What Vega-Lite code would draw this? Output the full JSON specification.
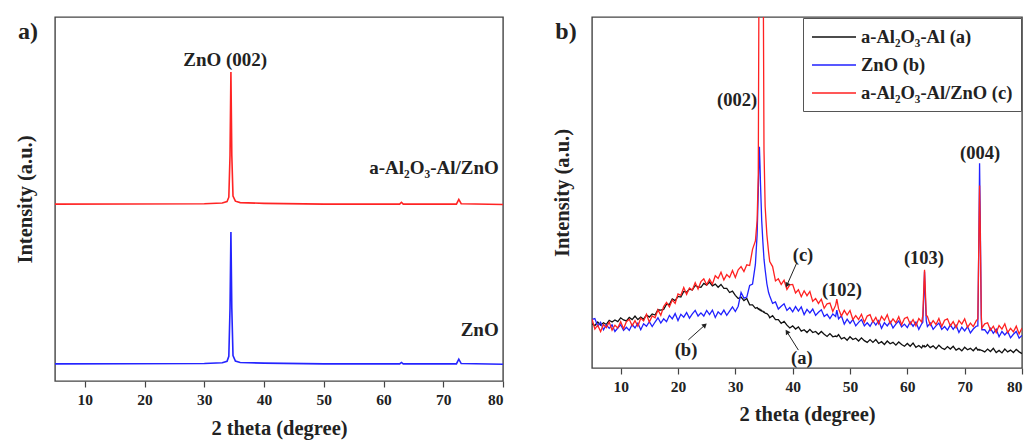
{
  "$schema": "https://vega.github.io/schema/vega-lite/v6.json",
  "background": "white",
  "padding": {"left": 14, "top": 16, "right": 5, "bottom": 0},
  "spacing": 46,
  "resolve": {"scale": {"color": "independent"}, "legend": {"color": "independent"}},
  "config": {
    "font": "Liberation Serif",
    "view": {"stroke": "#444444", "strokeWidth": 1.4},
    "axis": {
      "grid": false,
      "domain": false,
      "labelFont": "Liberation Serif",
      "labelFontWeight": "bold",
      "labelFontSize": 15.5,
      "labelColor": "#222222",
      "titleFont": "Liberation Serif",
      "titleFontWeight": "bold",
      "titleFontSize": 20.5,
      "titleColor": "#222222"
    },
    "text": {"font": "Liberation Serif", "fontWeight": "bold", "color": "#222222"}
  },
  "hconcat": [
    {
      "width": 448,
      "height": 364,
      "layer": [
        {
          "data": {"values": [
            {"x": 5, "r": 48.6, "bl": 4.7},
            {"x": 30, "r": 48.7, "bl": 4.8},
            {"x": 33, "r": 48.9, "bl": 5.0},
            {"x": 33.8, "r": 49.3, "bl": 5.4},
            {"x": 34.1, "r": 50.5, "bl": 6.8},
            {"x": 34.3, "r": 62, "bl": 20},
            {"x": 34.45, "r": 84.9, "bl": 40.9},
            {"x": 34.6, "r": 62, "bl": 20},
            {"x": 34.8, "r": 50.8, "bl": 7.0},
            {"x": 35.2, "r": 49.4, "bl": 5.5},
            {"x": 36, "r": 49.0, "bl": 5.1},
            {"x": 40, "r": 48.8, "bl": 4.9},
            {"x": 50, "r": 48.6, "bl": 4.7},
            {"x": 62.7, "r": 48.6, "bl": 4.7},
            {"x": 63, "r": 49.1, "bl": 5.1},
            {"x": 63.3, "r": 48.6, "bl": 4.7},
            {"x": 72.2, "r": 48.6, "bl": 4.7},
            {"x": 72.6, "r": 49.9, "bl": 6.0},
            {"x": 73.0, "r": 48.7, "bl": 4.8},
            {"x": 80, "r": 48.5, "bl": 4.6}
          ]},
          "transform": [{"fold": ["r", "bl"], "as": ["s", "v"]}],
          "mark": {"type": "line", "strokeWidth": 1.6, "clip": true},
          "encoding": {
            "x": {"field": "x", "type": "quantitative",
              "scale": {"domain": [5, 80], "nice": false, "zero": false},
              "axis": {"title": "2 theta (degree)",
                "values": [10, 15, 20, 25, 30, 35, 40, 45, 50, 55, 60, 65, 70, 75, 80],
                "labelExpr": "datum.value % 10 === 0 ? datum.label : ''",
                "tickSize": {"condition": {"test": "datum.value % 10 === 0", "value": 6}, "value": 3},
                "tickColor": "#444444", "tickWidth": 1.2,
                "labelPadding": 5, "titlePadding": 11}},
            "y": {"field": "v", "type": "quantitative",
              "scale": {"domain": [0, 100], "nice": false},
              "axis": {"title": "Intensity (a.u.)", "labels": false, "ticks": false, "titlePadding": 20}},
            "color": {"field": "s", "type": "nominal",
              "scale": {"domain": ["r", "bl"], "range": ["#ff2424", "#2424ff"]}, "legend": null}
          }
        },
        {
          "data": {"values": [
            {"x": 33.5, "v": 88.2, "t": "ZnO (002)"},
            {"x": 68.45, "v": 58.5, "t": "a-Al₂O₃-Al/ZnO"},
            {"x": 76.1, "v": 14.0, "t": "ZnO"}
          ]},
          "mark": {"type": "text", "fontSize": 19, "align": "center", "baseline": "middle"},
          "encoding": {
            "x": {"field": "x", "type": "quantitative"},
            "y": {"field": "v", "type": "quantitative"},
            "text": {"field": "t"}
          }
        },
        {
          "data": {"values": [{"x": 0.5, "v": 95.9, "t": "a)"}]},
          "mark": {"type": "text", "fontSize": 24, "align": "center", "baseline": "middle"},
          "encoding": {
            "x": {"field": "x", "type": "quantitative"},
            "y": {"field": "v", "type": "quantitative"},
            "text": {"field": "t"}
          }
        }
      ]
    },
    {
      "width": 430,
      "height": 351,
      "layer": [
        {
          "data": {"values": [
            {"x": 5, "a": 12.6, "b": 13.8, "c": 13.9},
            {"x": 5.5, "a": 12.1, "b": 14.1, "c": 11.1},
            {"x": 6, "a": 13.1, "b": 11.9, "c": 12.2},
            {"x": 6.5, "a": 12.2, "b": 13.0, "c": 10.4},
            {"x": 7, "a": 12.9, "b": 10.9, "c": 12.4},
            {"x": 7.5, "a": 12.4, "b": 12.3, "c": 11.5},
            {"x": 8, "a": 13.6, "b": 11.3, "c": 13.1},
            {"x": 8.5, "a": 13.1, "b": 12.3, "c": 10.8},
            {"x": 9, "a": 13.7, "b": 10.4, "c": 12.2},
            {"x": 9.5, "a": 13.2, "b": 11.4, "c": 11.4},
            {"x": 10, "a": 14.3, "b": 12.3, "c": 13.2},
            {"x": 10.5, "a": 13.7, "b": 10.7, "c": 11.2},
            {"x": 11, "a": 13.4, "b": 11.6, "c": 13.2},
            {"x": 11.5, "a": 14.4, "b": 10.7, "c": 13.9},
            {"x": 12, "a": 13.8, "b": 12.4, "c": 12.0},
            {"x": 12.5, "a": 14.8, "b": 11.4, "c": 13.5},
            {"x": 13, "a": 13.8, "b": 12.8, "c": 11.9},
            {"x": 13.5, "a": 14.5, "b": 10.9, "c": 14.2},
            {"x": 14, "a": 13.9, "b": 12.6, "c": 13.4},
            {"x": 14.5, "a": 15.1, "b": 11.9, "c": 15.3},
            {"x": 15, "a": 14.5, "b": 13.2, "c": 13.1},
            {"x": 15.5, "a": 15.4, "b": 11.8, "c": 14.8},
            {"x": 16, "a": 15.1, "b": 13.1, "c": 14.3},
            {"x": 16.5, "a": 16.6, "b": 14.3, "c": 16.6},
            {"x": 17, "a": 16.5, "b": 12.8, "c": 15.0},
            {"x": 17.5, "a": 16.7, "b": 14.0, "c": 17.5},
            {"x": 18, "a": 18.2, "b": 13.2, "c": 18.7},
            {"x": 18.5, "a": 18.1, "b": 15.0, "c": 17.4},
            {"x": 19, "a": 19.7, "b": 14.0, "c": 19.4},
            {"x": 19.5, "a": 19.2, "b": 15.5, "c": 18.4},
            {"x": 20, "a": 20.4, "b": 13.5, "c": 21.1},
            {"x": 20.5, "a": 20.2, "b": 15.3, "c": 20.7},
            {"x": 21, "a": 21.8, "b": 14.5, "c": 22.9},
            {"x": 21.5, "a": 21.6, "b": 15.8, "c": 21.0},
            {"x": 22, "a": 22.5, "b": 14.2, "c": 22.8},
            {"x": 22.5, "a": 22.2, "b": 15.4, "c": 22.2},
            {"x": 23, "a": 23.5, "b": 16.4, "c": 24.3},
            {"x": 23.5, "a": 23.1, "b": 14.8, "c": 22.5},
            {"x": 24, "a": 23.0, "b": 15.7, "c": 24.6},
            {"x": 24.5, "a": 24.1, "b": 14.8, "c": 25.4},
            {"x": 25, "a": 23.6, "b": 16.4, "c": 23.7},
            {"x": 25.5, "a": 24.5, "b": 15.2, "c": 25.3},
            {"x": 26, "a": 23.4, "b": 16.5, "c": 23.9},
            {"x": 26.5, "a": 23.9, "b": 14.4, "c": 26.3},
            {"x": 27, "a": 23.0, "b": 16.0, "c": 25.5},
            {"x": 27.5, "a": 23.8, "b": 15.2, "c": 27.3},
            {"x": 28, "a": 22.7, "b": 16.5, "c": 25.1},
            {"x": 28.5, "a": 22.7, "b": 15.0, "c": 26.6},
            {"x": 29, "a": 21.5, "b": 16.2, "c": 25.8},
            {"x": 29.5, "a": 21.9, "b": 17.4, "c": 27.8},
            {"x": 30, "a": 20.7, "b": 16.1, "c": 25.8},
            {"x": 30.5, "a": 19.8, "b": 17.6, "c": 28.0},
            {"x": 31, "a": 20.2, "b": 21.5, "c": 28.9},
            {"x": 31.5, "a": 19.2, "b": 19.9, "c": 27.5},
            {"x": 32, "a": 19.8, "b": 20.2, "c": 29.4},
            {"x": 32.5, "a": 18.0, "b": 23.5, "c": 29.2},
            {"x": 33, "a": 18.0, "b": 23.9, "c": 33.8},
            {"x": 33.5, "a": 17.0, "b": 29.5, "c": 36.2},
            {"x": 33.8, "a": 17.2, "b": 38, "c": 42},
            {"x": 34.0, "a": 16.8, "b": 50, "c": 55},
            {"x": 34.1, "a": 16.9, "b": 58, "c": 100},
            {"x": 34.2, "a": 16.6, "b": 63, "c": 200},
            {"x": 34.3, "a": 16.7, "b": 58, "c": 300},
            {"x": 34.4, "a": 16.4, "b": 52, "c": 380},
            {"x": 34.5, "a": 16.5, "b": 47, "c": 400},
            {"x": 34.6, "a": 16.2, "b": 42, "c": 380},
            {"x": 34.8, "a": 16.2, "b": 36, "c": 200},
            {"x": 34.9, "a": 15.9, "b": 33.5, "c": 100},
            {"x": 35.0, "a": 16.0, "b": 31, "c": 62},
            {"x": 35.2, "a": 15.6, "b": 28, "c": 46},
            {"x": 35.5, "a": 15.5, "b": 24, "c": 38},
            {"x": 35.8, "a": 15.0, "b": 21.5, "c": 33},
            {"x": 36, "a": 14.3, "b": 20.5, "c": 30.3},
            {"x": 36.5, "a": 14.9, "b": 18.4, "c": 28.9},
            {"x": 37, "a": 13.8, "b": 18.8, "c": 24.8},
            {"x": 37.5, "a": 13.8, "b": 16.8, "c": 25.4},
            {"x": 38, "a": 12.7, "b": 17.6, "c": 23.8},
            {"x": 38.5, "a": 13.3, "b": 18.3, "c": 25.0},
            {"x": 39, "a": 12.2, "b": 16.4, "c": 22.4},
            {"x": 39.5, "a": 11.4, "b": 17.2, "c": 23.7},
            {"x": 40, "a": 12.0, "b": 16.0, "c": 23.8},
            {"x": 40.5, "a": 11.1, "b": 17.5, "c": 21.4},
            {"x": 41, "a": 11.7, "b": 16.2, "c": 22.3},
            {"x": 41.5, "a": 10.5, "b": 17.4, "c": 20.3},
            {"x": 42, "a": 10.9, "b": 15.2, "c": 22.0},
            {"x": 42.5, "a": 10.1, "b": 16.7, "c": 20.6},
            {"x": 43, "a": 11.0, "b": 15.7, "c": 21.8},
            {"x": 43.5, "a": 10.1, "b": 16.8, "c": 19.0},
            {"x": 44, "a": 10.4, "b": 15.0, "c": 19.8},
            {"x": 44.5, "a": 9.6, "b": 15.9, "c": 18.4},
            {"x": 45, "a": 10.4, "b": 16.6, "c": 19.6},
            {"x": 45.5, "a": 9.6, "b": 14.7, "c": 17.0},
            {"x": 46, "a": 9.0, "b": 15.3, "c": 18.3},
            {"x": 46.5, "a": 9.8, "b": 14.1, "c": 18.5},
            {"x": 47, "a": 8.9, "b": 15.4, "c": 16.1},
            {"x": 47.5, "a": 9.1, "b": 14.7, "c": 17.9},
            {"x": 47.7, "a": 8.9, "b": 16.5, "c": 19.6},
            {"x": 48, "a": 9.5, "b": 14.0, "c": 16.9},
            {"x": 48.5, "a": 8.3, "b": 14.9, "c": 14.8},
            {"x": 49, "a": 8.7, "b": 12.5, "c": 16.4},
            {"x": 49.5, "a": 7.9, "b": 13.9, "c": 15.1},
            {"x": 50, "a": 8.9, "b": 12.7, "c": 16.4},
            {"x": 50.5, "a": 8.1, "b": 13.8, "c": 13.8},
            {"x": 51, "a": 8.5, "b": 12.0, "c": 14.9},
            {"x": 51.5, "a": 7.7, "b": 13.0, "c": 13.8},
            {"x": 52, "a": 8.6, "b": 13.8, "c": 15.3},
            {"x": 52.5, "a": 7.8, "b": 12.0, "c": 13.0},
            {"x": 53, "a": 7.3, "b": 12.9, "c": 14.8},
            {"x": 53.5, "a": 8.1, "b": 11.9, "c": 15.2},
            {"x": 54, "a": 7.3, "b": 13.4, "c": 13.1},
            {"x": 54.5, "a": 8.1, "b": 12.2, "c": 14.4},
            {"x": 55, "a": 7.0, "b": 13.5, "c": 12.6},
            {"x": 55.5, "a": 7.5, "b": 11.3, "c": 14.7},
            {"x": 56, "a": 6.7, "b": 12.9, "c": 13.6},
            {"x": 56.5, "a": 7.7, "b": 12.0, "c": 15.2},
            {"x": 57, "a": 6.9, "b": 13.2, "c": 12.7},
            {"x": 57.5, "a": 7.3, "b": 11.4, "c": 14.0},
            {"x": 58, "a": 6.5, "b": 12.5, "c": 12.9},
            {"x": 58.5, "a": 7.4, "b": 13.4, "c": 14.6},
            {"x": 59, "a": 6.7, "b": 11.7, "c": 12.3},
            {"x": 59.5, "a": 6.2, "b": 12.5, "c": 14.1},
            {"x": 60, "a": 7.0, "b": 11.5, "c": 14.5},
            {"x": 60.5, "a": 6.2, "b": 13.1, "c": 12.5},
            {"x": 61, "a": 7.1, "b": 11.9, "c": 13.8},
            {"x": 61.5, "a": 5.9, "b": 13.1, "c": 12.0},
            {"x": 62, "a": 6.4, "b": 11.0, "c": 14.1},
            {"x": 62.5, "a": 5.7, "b": 12.6, "c": 13.1},
            {"x": 62.7, "a": 6.4, "b": 13.0, "c": 15.0},
            {"x": 62.9, "a": 6.1, "b": 22, "c": 24},
            {"x": 63.0, "a": 6.3, "b": 27.5, "c": 28},
            {"x": 63.1, "a": 6.0, "b": 22, "c": 24},
            {"x": 63.3, "a": 6.2, "b": 13.5, "c": 15},
            {"x": 63.5, "a": 6.7, "b": 11.8, "c": 14.7},
            {"x": 64, "a": 5.8, "b": 12.8, "c": 12.2},
            {"x": 64.5, "a": 6.3, "b": 11.0, "c": 13.5},
            {"x": 65, "a": 5.5, "b": 12.0, "c": 12.4},
            {"x": 65.5, "a": 6.5, "b": 12.8, "c": 14.1},
            {"x": 66, "a": 5.7, "b": 11.0, "c": 11.8},
            {"x": 66.5, "a": 5.3, "b": 11.8, "c": 13.6},
            {"x": 67, "a": 6.1, "b": 10.8, "c": 14.0},
            {"x": 67.5, "a": 5.4, "b": 12.3, "c": 12.0},
            {"x": 68, "a": 6.2, "b": 11.0, "c": 13.2},
            {"x": 68.5, "a": 5.1, "b": 12.2, "c": 11.5},
            {"x": 69, "a": 5.6, "b": 10.1, "c": 13.5},
            {"x": 69.5, "a": 4.9, "b": 11.6, "c": 12.5},
            {"x": 70, "a": 5.9, "b": 10.6, "c": 14.0},
            {"x": 70.5, "a": 5.2, "b": 11.8, "c": 11.6},
            {"x": 71, "a": 5.6, "b": 10.0, "c": 12.8},
            {"x": 71.5, "a": 4.9, "b": 11.1, "c": 11.8},
            {"x": 72, "a": 5.8, "b": 11.9, "c": 13.4},
            {"x": 72.3, "a": 5.1, "b": 12, "c": 14},
            {"x": 72.5, "a": 5.3, "b": 40, "c": 40},
            {"x": 72.6, "a": 5.1, "b": 58.3, "c": 52},
            {"x": 72.7, "a": 5.2, "b": 45, "c": 42},
            {"x": 72.9, "a": 5.0, "b": 14, "c": 15},
            {"x": 73, "a": 5.0, "b": 10.9, "c": 11.4},
            {"x": 73.5, "a": 4.6, "b": 10.9, "c": 12.6},
            {"x": 74, "a": 5.4, "b": 9.8, "c": 12.9},
            {"x": 74.5, "a": 4.7, "b": 11.3, "c": 10.8},
            {"x": 75, "a": 5.6, "b": 9.9, "c": 11.9},
            {"x": 75.5, "a": 4.4, "b": 11.1, "c": 10.1},
            {"x": 76, "a": 5.0, "b": 8.9, "c": 12.1},
            {"x": 76.5, "a": 4.3, "b": 10.4, "c": 11.1},
            {"x": 77, "a": 5.4, "b": 9.4, "c": 12.6},
            {"x": 77.5, "a": 4.6, "b": 10.4, "c": 10.1},
            {"x": 78, "a": 5.1, "b": 8.6, "c": 11.3},
            {"x": 78.5, "a": 4.4, "b": 9.6, "c": 10.3},
            {"x": 79, "a": 5.3, "b": 10.4, "c": 11.9},
            {"x": 79.5, "a": 4.6, "b": 8.5, "c": 9.7},
            {"x": 80, "a": 4.1, "b": 9.3, "c": 11.4}
          ]},
          "transform": [{"fold": ["a", "b", "c"], "as": ["s", "v"]}],
          "mark": {"type": "line", "strokeWidth": 1.3, "clip": true},
          "encoding": {
            "x": {"field": "x", "type": "quantitative",
              "scale": {"domain": [5, 80], "nice": false, "zero": false},
              "axis": {"title": "2 theta (degree)",
                "values": [10, 15, 20, 25, 30, 35, 40, 45, 50, 55, 60, 65, 70, 75, 80],
                "labelExpr": "datum.value % 10 === 0 ? datum.label : ''",
                "tickSize": {"condition": {"test": "datum.value % 10 === 0", "value": 6}, "value": 3},
                "tickColor": "#444444", "tickWidth": 1.2,
                "labelPadding": 5, "titlePadding": 10}},
            "y": {"field": "v", "type": "quantitative",
              "scale": {"domain": [0, 100], "nice": false},
              "axis": {"title": "Intensity (a.u.)", "labels": false, "ticks": false, "titlePadding": 20}},
            "color": {"field": "s", "type": "nominal",
              "scale": {"domain": ["a", "b", "c"], "range": ["#111111", "#2121ff", "#ff2121"]},
              "legend": {
                "title": null,
                "orient": "top-right",
                "offset": 1,
                "labelExpr": "datum.value === 'a' ? 'a-Al₂O₃-Al (a)' : datum.value === 'b' ? 'ZnO (b)' : 'a-Al₂O₃-Al/ZnO (c)'",
                "symbolType": "M-1,0H3.4",
                "symbolSize": 400,
                "symbolStrokeWidth": 1.5,
                "labelFont": "Liberation Serif",
                "labelFontWeight": "bold",
                "labelFontSize": 18.5,
                "labelColor": "#222222",
                "labelLimit": 300,
                "labelOffset": 28,
                "rowPadding": 7,
                "padding": 8,
                "strokeColor": "#555555",
                "fillColor": "white"
              }}
          }
        },
        {
          "data": {"values": [
            {"x": 30.3, "v": 76.4, "t": "(002)"},
            {"x": 72.7, "v": 61.2, "t": "(004)"},
            {"x": 62.9, "v": 31.3, "t": "(103)"},
            {"x": 48.6, "v": 22.2, "t": "(102)"},
            {"x": 41.8, "v": 32.2, "t": "(c)"},
            {"x": 21.4, "v": 5.1, "t": "(b)"},
            {"x": 41.6, "v": 2.8, "t": "(a)"}
          ]},
          "mark": {"type": "text", "fontSize": 18.5, "align": "center", "baseline": "middle"},
          "encoding": {
            "x": {"field": "x", "type": "quantitative"},
            "y": {"field": "v", "type": "quantitative"},
            "text": {"field": "t"}
          }
        },
        {
          "data": {"values": [{"x": 0.47, "v": 95.7, "t": "b)"}]},
          "mark": {"type": "text", "fontSize": 24, "align": "center", "baseline": "middle"},
          "encoding": {
            "x": {"field": "x", "type": "quantitative"},
            "y": {"field": "v", "type": "quantitative"},
            "text": {"field": "t"}
          }
        },
        {
          "data": {"values": [
            {"x": 40.7, "v": 29.9, "xe": 39.0, "ve": 23.6},
            {"x": 21.8, "v": 8.0, "xe": 24.7, "ve": 12.25},
            {"x": 41.0, "v": 5.1, "xe": 39.0, "ve": 10.3}
          ]},
          "mark": {"type": "rule", "color": "#222222", "strokeWidth": 1},
          "encoding": {
            "x": {"field": "x", "type": "quantitative"},
            "y": {"field": "v", "type": "quantitative"},
            "x2": {"field": "xe"},
            "y2": {"field": "ve"}
          }
        },
        {
          "data": {"values": [
            {"x": 39.0, "v": 23.6, "ang": 205},
            {"x": 24.7, "v": 12.25, "ang": 48},
            {"x": 39.0, "v": 10.3, "ang": 327}
          ]},
          "mark": {"type": "point", "shape": "triangle-up", "filled": true, "color": "#222222", "size": 30, "opacity": 1},
          "encoding": {
            "x": {"field": "x", "type": "quantitative"},
            "y": {"field": "v", "type": "quantitative"},
            "angle": {"field": "ang", "type": "quantitative", "scale": null}
          }
        }
      ]
    }
  ]
}
